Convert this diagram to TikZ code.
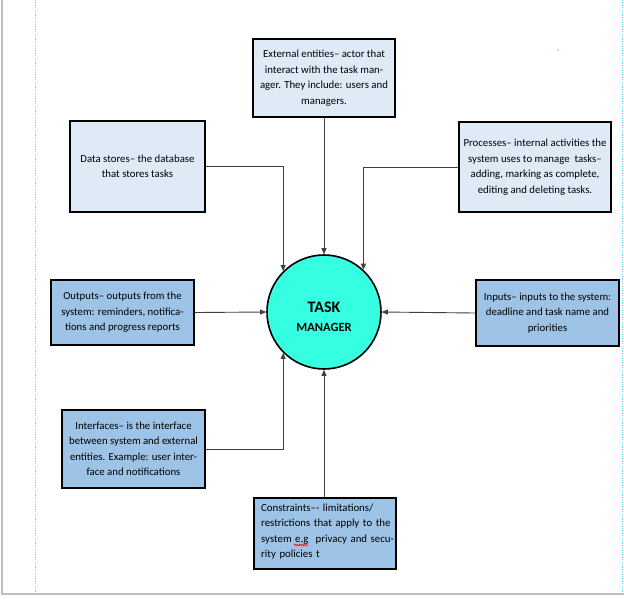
\documentclass[tikz,border=0pt]{standalone}
\usepackage{fontspec}
\setmainfont{Carlito}
\usetikzlibrary{arrows.meta,decorations.pathmorphing}
\definecolor{lightbl}{HTML}{DEEBF7}
\definecolor{midbl}{HTML}{9DC3E6}
\definecolor{turq}{HTML}{35FFE0}
\tikzset{
  boxbase/.style={draw=black, line width=2.2pt, align=center, inner sep=2pt,
    font=\fontsize{10.8}{15.5}\selectfont},
  lbox/.style={boxbase, fill=lightbl},
  mbox/.style={boxbase, fill=midbl},
  boxtext/.style={inner sep=0pt, align=left, text width=136pt,
    font=\fontsize{10.8}{15.5}\selectfont},
  conn/.style={line width=0.9pt, draw=black!75, -{Triangle[length=6pt,width=5pt]}},
  pageline/.style={draw=black!25, line width=1.5pt},
  marginline/.style={draw=cyan!50, line width=0.8pt, dash pattern=on 1.2pt off 1.2pt}
}
\begin{document}
\begin{tikzpicture}[x=1pt,y=-1pt]
\useasboundingbox (0,0) rectangle (624,598);
% page decorations
\draw[pageline] (2,0) -- (2,594) -- (624,594);
\draw[marginline] (35,0) -- (35,593);
\draw[marginline] (622,0) -- (622,593);
\fill[blue!70] (558,50) circle (0.7pt);
% centre
\node[circle, draw=black, line width=1.6pt, fill=turq, minimum size=114pt, inner sep=0pt] (tm) at (324,312) {};
\node[font=\bfseries\fontsize{16}{18}\selectfont, anchor=base] (tmt) at (324,312) {TASK};
\node[font=\bfseries\fontsize{12.5}{14}\selectfont, anchor=base] (tmm) at (324,331) {MANAGER};
% boxes
\node[lbox, minimum width=142pt, minimum height=78pt] (ext) at (324,78)
  {External entities– actor that\\interact with the task man-\\ager. They include: users and\\managers.};
\node[lbox, minimum width=135pt, minimum height=91pt] (ds) at (137.5,166.5)
  {Data stores– the database\\that stores tasks};
\node[lbox, minimum width=152pt, minimum height=90pt] (pr) at (535,167)
  {Processes– internal activities the\\system uses to manage\ \ tasks–\\adding, marking as complete,\\editing and deleting tasks.};
\node[mbox, minimum width=143pt, minimum height=65pt] (out) at (122.5,312.5)
  {Outputs– outputs from the\\system: reminders, notifica-\\tions and progress reports};
\node[mbox, minimum width=143pt, minimum height=66pt] (in) at (547.5,313)
  {Inputs– inputs to the system:\\deadline and task name and\\priorities};
\node[mbox, minimum width=143pt, minimum height=78pt] (if) at (133.5,449)
  {Interfaces– is the interface\\between system and external\\entities. Example: user inter-\\face and notifications};
\node[mbox, minimum width=142pt, minimum height=71pt] (con) at (325,533.5) {};
\node[boxtext, anchor=base west] (cont) at (261,511)
  {Constraints–- limitations/\\restrictions that apply to the\\system e.g\ \ privacy and secu-\\rity policies t};
\draw[red, line width=0.6pt, decorate, decoration={snake, amplitude=0.8pt, segment length=2.5pt}] (294,545) -- (308,545);
% connectors
\draw[conn] (ext.south) -- (tm.north);
\draw[conn] (ds.east) -- (ds.east -| tm.135) -- (tm.135);
\draw[conn] (pr.west) -- (pr.west -| tm.47) -- (tm.47);
\draw[conn] (out.east) -- (tm.west);
\draw[conn] (in.west) -- (tm.east);
\draw[conn] (if.east) -- (if.east -| tm.225) -- (tm.225);
\draw[conn] (tm.south |- con.north) -- (tm.south);
\end{tikzpicture}
\end{document}
